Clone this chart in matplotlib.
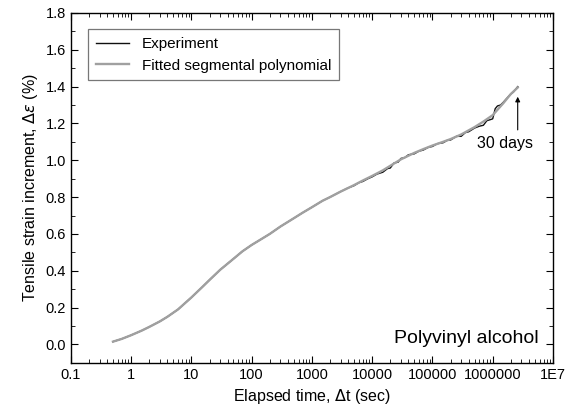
import matplotlib
matplotlib.use("Agg")
import matplotlib.pyplot as plt
from matplotlib.ticker import FixedLocator, FixedFormatter, LogLocator, MultipleLocator, NullFormatter, FormatStrFormatter

plt.rcParams['font.family'] = ['Liberation Sans', 'DejaVu Sans']

fit_t = [0.5, 0.7, 1, 1.5, 2, 3, 4, 6, 10, 15, 20, 30, 50, 70, 100, 150, 200, 300,
         500, 700, 1000, 1500, 2000, 3000, 5000, 7000, 1e4, 1.5e4, 2e4, 3e4, 5e4,
         7e4, 1e5, 1.5e5, 2e5, 3e5, 5e5, 7e5, 1e6, 1.5e6, 2e6, 2.6e6]
fit_y = [0.015, 0.03, 0.05, 0.075, 0.095, 0.125, 0.15, 0.19, 0.255, 0.31, 0.35,
         0.405, 0.465, 0.505, 0.54, 0.575, 0.60, 0.64, 0.685, 0.715, 0.745, 0.78,
         0.80, 0.83, 0.865, 0.89, 0.915, 0.945, 0.97, 1.005, 1.04, 1.06, 1.08,
         1.10, 1.115, 1.14, 1.18, 1.21, 1.245, 1.31, 1.36, 1.395]

exp_t = [0.5, 0.7, 1, 1.5, 2, 3, 4, 6, 10, 15, 20, 30, 50, 70, 100, 150, 200, 300,
         500, 700, 1000, 1500, 2000, 3000, 4000, 5000, 6000, 7000, 8500, 1e4, 1.2e4,
         1.5e4, 1.8e4, 2e4, 2.3e4, 2.7e4, 3e4, 3.5e4, 4e4, 5e4, 6e4, 7e4, 8.5e4,
         1e5, 1.2e5, 1.5e5, 1.8e5, 2e5, 2.5e5, 3e5, 3.5e5, 4e5, 5e5, 6e5, 7e5,
         8e5, 9e5, 1e6, 1.1e6, 1.2e6, 1.35e6, 1.5e6, 1.7e6, 2e6, 2.2e6, 2.4e6, 2.6e6]
exp_y = [0.015, 0.03, 0.05, 0.075, 0.095, 0.125, 0.15, 0.19, 0.255, 0.31, 0.35,
         0.405, 0.465, 0.505, 0.54, 0.575, 0.60, 0.64, 0.685, 0.715, 0.745, 0.78,
         0.80, 0.83, 0.85, 0.862, 0.878, 0.885, 0.90, 0.91, 0.925, 0.935, 0.955,
         0.958, 0.985, 0.99, 1.01, 1.015, 1.03, 1.035, 1.05, 1.055, 1.07, 1.075,
         1.09, 1.095, 1.11, 1.11, 1.13, 1.13, 1.15, 1.155, 1.175, 1.185, 1.19,
         1.215, 1.22, 1.225, 1.28, 1.295, 1.30, 1.315, 1.335, 1.36, 1.37, 1.385, 1.40]

xticks = [0.1, 1, 10, 100, 1000, 1e4, 1e5, 1e6, 1e7]
xticklabels = ["0.1", "1", "10", "100", "1000", "10000", "100000", "1000000", "1E7"]

fig = plt.figure(figsize=(5.76, 4.18), dpi=100)
ax = fig.add_axes([0.123, 0.132, 0.837, 0.837])

ax.plot(exp_t, exp_y, color='#101010', lw=1.0, label='Experiment', zorder=2)
ax.plot(fit_t, fit_y, color='#a0a0a0', lw=1.7, label='Fitted segmental polynomial', zorder=3)

ax.set_xscale('log')
ax.set_xlim(0.1, 1e7)
ax.set_ylim(-0.1, 1.8)
ax.xaxis.set_major_locator(FixedLocator(xticks))
ax.xaxis.set_major_formatter(FixedFormatter(xticklabels))
ax.xaxis.set_minor_locator(LogLocator(base=10, subs=range(2, 10), numticks=20))
ax.xaxis.set_minor_formatter(NullFormatter())
ax.yaxis.set_major_locator(MultipleLocator(0.2))
ax.yaxis.set_minor_locator(MultipleLocator(0.1))
ax.yaxis.set_major_formatter(FormatStrFormatter('%.1f'))

ax.tick_params(which='both', direction='in', top=True, right=True, labelsize=10.5, color='black')
ax.tick_params(which='major', length=5)
ax.tick_params(which='minor', length=3)
for s in ax.spines.values():
    s.set_linewidth(1.0)

ax.set_xlabel(r'Elapsed time, $\Delta$t (sec)', fontsize=11.5)
ax.set_ylabel(r'Tensile strain increment, $\Delta\varepsilon$ (%)', fontsize=11.5)

leg = ax.legend(loc='upper left', fontsize=11, frameon=True, fancybox=False,
                edgecolor='#555555', handlelength=2.2, borderpad=0.5,
                bbox_to_anchor=(0.02, 0.975))
leg.get_frame().set_linewidth(0.9)

ax.annotate('', xy=(2.6e6, 1.345), xytext=(2.6e6, 1.165),
            arrowprops=dict(arrowstyle='-|>', color='black', lw=0.8,
                            mutation_scale=7, shrinkA=0, shrinkB=0))
ax.text(1.57e6, 1.093, '30 days', ha='center', va='center', fontsize=11.5)
ax.text(0.97, 0.07, 'Polyvinyl alcohol', transform=ax.transAxes,
        ha='right', va='center', fontsize=14)

fig.savefig('out.png', dpi=100)
